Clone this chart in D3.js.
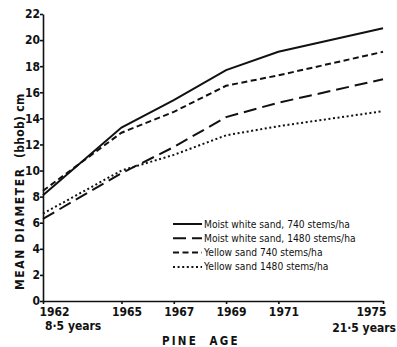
<!doctype html>
<html lang="en">
<head>
<meta charset="utf-8">
<title>Pine diameter</title>
<script src="https://cdn.jsdelivr.net/npm/d3@7"></script>
<style>
  body { margin: 0; background: #fff; }
  svg text { font-family: "DejaVu Sans Condensed", "Liberation Sans Narrow", "DejaVu Sans", sans-serif; fill: #111; }
  .tick text { font-weight: bold; font-size: 12px; }
  .domain, .tick line { stroke: #111; stroke-width: 1.6px; }
  .series { fill: none; stroke: #111; stroke-width: 2px; }
</style>
</head>
<body>
<svg width="397" height="347"></svg>
<script>
// years on the x axis
var years = [1962, 1965, 1967, 1969, 1971, 1975];
var yTicks = [0, 2, 4, 6, 8, 10, 12, 14, 16, 18, 20, 22];

// mean diameter (cm)
var moistWhite740  = [8.1, 13.3, 15.4, 17.7, 19.1, 20.9];
var yellow740      = [8.45, 12.9, 14.5, 16.5, 17.3, 19.1];
var moistWhite1480 = [6.3, 9.8, 11.8, 14.1, 15.2, 17.0];
var yellow1480     = [6.7, 10.0, 11.2, 12.7, 13.4, 14.55];

var seriesNames = [
  "Moist white sand, 740 stems/ha",
  "Moist white sand, 1480 stems/ha",
  "Yellow sand 740 stems/ha",
  "Yellow sand 1480 stems/ha"
];
var seriesValues = [moistWhite740, moistWhite1480, yellow740, yellow1480];
var dashes = ["none", "13,6", "6,3.5", "2,2.6"];

var svg = d3.select("svg");

var x = d3.scaleLinear().domain([1962, 1975]).range([43, 383]);
var y = d3.scaleLinear().domain([0, 22]).range([301, 14]);

// axes
var xAxis = svg.append("g")
    .attr("transform", "translate(0," + y(0) + ")")
    .call(d3.axisBottom(x).tickValues(years).tickFormat(d3.format("d")).tickSize(3).tickSizeOuter(0));
xAxis.selectAll(".tick text")
    .attr("dy", "0.75em")
    .attr("dx", function(d) { return d == 1962 ? 11 : (d == 1975 ? -12 : 5); });

var yAxis = svg.append("g")
    .attr("transform", "translate(" + x(1962) + ",0)")
    .call(d3.axisLeft(y).tickValues(yTicks).tickSize(3).tickSizeOuter(0));
yAxis.selectAll(".tick text").attr("x", -3);

// lines
var line = d3.line()
    .x(function(d, i) { return x(years[i]); })
    .y(function(d) { return y(d); });

svg.append("g").selectAll("path")
    .data(seriesValues)
    .enter().append("path")
    .attr("class", "series")
    .attr("stroke-dasharray", function(d, i) { return dashes[i]; })
    .attr("d", line);

// legend
var legend = svg.append("g").selectAll("g")
    .data(seriesNames)
    .enter().append("g")
    .attr("transform", function(d, i) { return "translate(173," + (224 + i * 14.3) + ")"; });

legend.append("line")
    .attr("class", "series")
    .attr("x1", 0).attr("x2", 29)
    .attr("stroke-dasharray", function(d, i) { return dashes[i]; });

legend.append("text")
    .attr("x", 31)
    .attr("dy", "0.35em")
    .style("font-size", "10.2px")
    .text(function(d) { return d; });

// axis titles
svg.append("text")
    .attr("x", 45).attr("y", 330)
    .style("font-size", "12px").style("font-weight", "bold")
    .text("8·5 years");

svg.append("text")
    .attr("x", 396).attr("y", 332)
    .attr("text-anchor", "end")
    .style("font-size", "12px").style("font-weight", "bold")
    .text("21·5 years");

svg.append("text")
    .attr("x", 162).attr("y", 345)
    .style("font-size", "11.5px").style("font-weight", "bold")
    .style("letter-spacing", "2.2px")
    .attr("xml:space", "preserve")
    .text("PINE  AGE");

var yTitle = svg.append("text")
    .attr("transform", "translate(24,290) rotate(-90)")
    .style("font-size", "12px").style("font-weight", "bold");
yTitle.append("tspan").style("letter-spacing", "1.6px").text("MEAN DIAMETER ");
yTitle.append("tspan").attr("dx", 4).style("letter-spacing", "0.3px").text("(bhob) cm");
</script>
</body>
</html>
